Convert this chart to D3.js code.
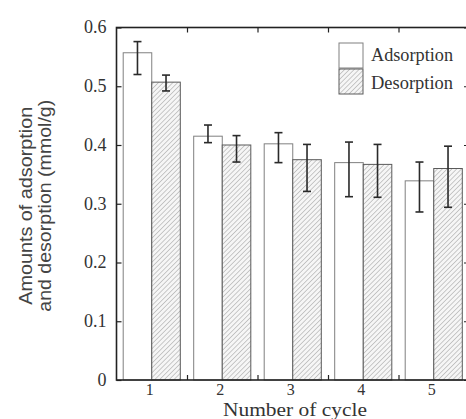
<!DOCTYPE html>
<html>
<head>
<meta charset="utf-8">
<script src="https://cdn.jsdelivr.net/npm/d3@7"></script>
<style>
html,body{margin:0;padding:0;background:#fff;overflow:hidden;}
svg{display:block;}
</style>
</head>
<body>
<svg id="chart" width="466" height="419"></svg>
<script>
// ---- data ----
const cycles = [1, 2, 3, 4, 5];
const adsorption = [0.557, 0.415, 0.402, 0.370, 0.339];
const adsorptionUpper = [0.576, 0.434, 0.421, 0.405, 0.371];
const adsorptionLower = [0.520, 0.404, 0.370, 0.312, 0.286];
const desorption = [0.507, 0.400, 0.375, 0.367, 0.360];
const desorptionUpper = [0.519, 0.416, 0.401, 0.401, 0.398];
const desorptionLower = [0.492, 0.371, 0.321, 0.311, 0.294];
const yTicks = [0, 0.1, 0.2, 0.3, 0.4, 0.5, 0.6];
const yTickLabels = ["0", "0.1", "0.2", "0.3", "0.4", "0.5", "0.6"];
const xMinorTicks = [1.5, 2.5, 3.5, 4.5];
const seriesNames = ["Adsorption", "Desorption"];
const xTitle = "Number of cycle";
const yTitle = ["Amounts of adsorption", "and desorption (mmol/g)"];

// ---- layout ----
const svg = d3.select("#chart");
const L = 116.5, R = 469, T = 27.5, B = 380;
const x = d3.scaleLinear().domain([0.5, 5.5]).range([L, R]);
const y = d3.scaleLinear().domain([0, 0.6]).range([B, T]);
const barW = (x(2) - x(1)) * 0.405;
const serif = "'Liberation Serif','Times New Roman',serif";
const sans = "'Liberation Sans',Arial,sans-serif";

const defs = svg.append("defs");
defs.append("pattern")
  .attr("id", "hatch").attr("patternUnits", "userSpaceOnUse")
  .attr("width", 3.4).attr("height", 3.4)
  .attr("patternTransform", "rotate(45)")
  .call(p => {
    p.append("rect").attr("width", 3.4).attr("height", 3.4).attr("fill", "#f6f6f6");
    p.append("line").attr("x1", 0).attr("y1", 0).attr("x2", 0).attr("y2", 3.4)
      .attr("stroke", "#9a9a9a").attr("stroke-width", 1);
  });

const series = [
  {name: seriesNames[0], vals: adsorption, up: adsorptionUpper, lo: adsorptionLower, off: -1, fill: "#fff", stroke: "#808080"},
  {name: seriesNames[1], vals: desorption, up: desorptionUpper, lo: desorptionLower, off: 0, fill: "url(#hatch)", stroke: "#5a5a5a"}
];

// bars
series.forEach(s => {
  svg.append("g").selectAll("rect").data(cycles).join("rect")
    .attr("x", (d) => x(d) + s.off * barW)
    .attr("y", (d, i) => y(s.vals[i]))
    .attr("width", barW)
    .attr("height", (d, i) => y(0) - y(s.vals[i]))
    .attr("fill", s.fill)
    .attr("stroke", s.stroke)
    .attr("stroke-width", 1);
});

// error bars
series.forEach(s => {
  const g = svg.append("g").attr("stroke", "#2a2a2a").attr("stroke-width", 1.6);
  cycles.forEach((c, i) => {
    const cx = x(c) + s.off * barW + barW / 2;
    g.append("line").attr("x1", cx).attr("x2", cx).attr("y1", y(s.up[i])).attr("y2", y(s.lo[i]));
    g.append("line").attr("x1", cx - 4).attr("x2", cx + 4).attr("y1", y(s.up[i])).attr("y2", y(s.up[i]));
    g.append("line").attr("x1", cx - 4).attr("x2", cx + 4).attr("y1", y(s.lo[i])).attr("y2", y(s.lo[i]));
  });
});

// axes frame
const axisColor = "#222";
const tickLen = 5;
const gl = svg.append("g").attr("transform", `translate(${L},0)`)
  .call(d3.axisLeft(y).tickValues(yTicks).tickSize(-tickLen).tickPadding(10)
    .tickFormat((d, i) => yTickLabels[i]));
const gr = svg.append("g").attr("transform", `translate(${R},0)`)
  .call(d3.axisRight(y).tickValues(yTicks).tickSize(-tickLen).tickFormat(""));
const gb = svg.append("g").attr("transform", `translate(0,${B})`)
  .call(d3.axisBottom(x).tickValues(xMinorTicks).tickSize(-tickLen).tickFormat(""));
const gt = svg.append("g").attr("transform", `translate(0,${T})`)
  .call(d3.axisTop(x).tickValues(xMinorTicks).tickSize(-tickLen).tickFormat(""));
[gl, gr, gb, gt].forEach(g => {
  g.selectAll(".domain").remove();
  g.selectAll(".tick line").attr("stroke", axisColor).attr("stroke-width", 1.2);
});
svg.append("rect").attr("x", L).attr("y", T).attr("width", R - L).attr("height", B - T)
  .attr("fill", "none").attr("stroke", axisColor).attr("stroke-width", 1.6);

gl.selectAll(".tick text").attr("font-family", serif).attr("font-size", 18)
  .attr("fill", "#333").attr("dy", "0.3em");

// x category labels
svg.append("g").selectAll("text").data(cycles).join("text")
  .attr("x", d => x(d) - 2).attr("y", B + 14.5)
  .attr("text-anchor", "middle")
  .attr("font-family", serif).attr("font-size", 16).attr("fill", "#333")
  .text(d => d);

// x title
svg.append("text").attr("x", 295).attr("y", 416)
  .attr("text-anchor", "middle").attr("font-family", serif).attr("font-size", 18.5)
  .attr("fill", "#333")
  .attr("textLength", 144).attr("lengthAdjust", "spacingAndGlyphs")
  .text(xTitle);

// y title
yTitle.forEach((t, i) => {
  svg.append("text")
    .attr("transform", `translate(${32 + i * 19},${(T + B) / 2 + 2}) rotate(-90)`)
    .attr("text-anchor", "middle").attr("font-family", sans).attr("font-size", 18)
    .attr("fill", "#444")
    .attr("textLength", i === 0 ? 198 : 212).attr("lengthAdjust", "spacingAndGlyphs")
    .text(t);
});

// legend
const leg = svg.append("g");
series.forEach((s, i) => {
  leg.append("rect").attr("x", 339).attr("y", 43 + i * 26).attr("width", 24).attr("height", 25)
    .attr("fill", s.fill).attr("stroke", s.stroke).attr("stroke-width", 1);
  leg.append("text").attr("x", 371).attr("y", 61 + i * 27.5)
    .attr("font-family", serif).attr("font-size", 18).attr("fill", "#333")
    .attr("textLength", 82).attr("lengthAdjust", "spacingAndGlyphs")
    .text(s.name);
});
</script>
</body>
</html>
